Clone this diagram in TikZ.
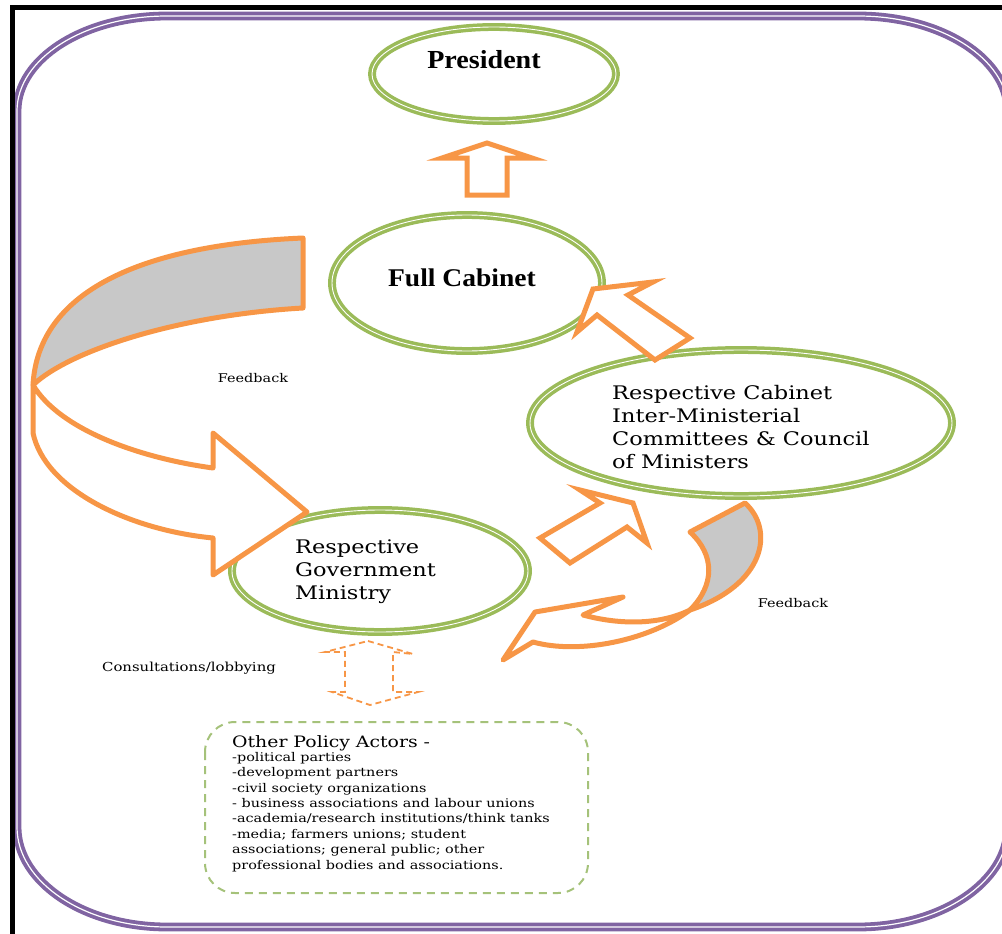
\documentclass[tikz,border=0pt]{standalone}
\usepackage{fontspec}
\setmainfont{DejaVu Serif}[FakeStretch=1.2]
\newfontfamily\timesfont{Liberation Serif}[FakeStretch=1.08]
\usetikzlibrary{shapes.geometric}
\definecolor{pgreen}{HTML}{9BBB59}
\definecolor{lgreen}{HTML}{A5C27A}
\definecolor{porange}{HTML}{F79646}
\definecolor{ppurple}{HTML}{8064A2}
\definecolor{pgray}{HTML}{C8C8C8}
\tikzset{
  bubble/.style={ellipse, draw=pgreen, double=white, double distance=0.9pt, line width=3.5pt, inner sep=0pt},
  blockarrow/.style={draw=porange, line width=5pt, fill=white, line join=miter},
  grayband/.style={draw=porange, line width=5pt, fill=pgray, line join=round},
  dasharrow/.style={draw=porange, line width=1.8pt, dash pattern=on 6pt off 4pt},
  small/.style={font=\fontsize{12}{14}\selectfont, inner sep=0pt},
  body/.style={font=\fontsize{18.7}{23}\selectfont, align=left, inner sep=0pt, anchor=west}
}
\begin{document}
\begin{tikzpicture}[x=1pt,y=-1pt]
\useasboundingbox (0,0) rectangle (1002,934);
\clip (0,0) rectangle (1002,934);
% purple frame
\draw[ppurple, line width=3.8pt, double=white, double distance=1.2pt]
  (17,111) .. controls (17,58.6) and (84.2,16) .. (167,16)
  -- (858,16) .. controls (940.8,16) and (1008,58.6) .. (1008,111)
  -- (1008,827) .. controls (1008,882.2) and (940.8,927) .. (858,927)
  -- (167,927) .. controls (84.2,927) and (17,882.2) .. (17,827) -- cycle;
% black edges
\draw[black, line width=5pt] (12.5,934) -- (12.5,7.5) -- (1002,7.5);

% ellipses
\node[bubble, minimum width=244pt, minimum height=94pt] (pres) at (494,74) {};
\node[bubble, minimum width=270pt, minimum height=136pt] (cab) at (467,283) {};
\node[bubble, minimum width=422pt, minimum height=146pt] (com) at (741,423) {};
\node[bubble, minimum width=296pt, minimum height=122pt] (min) at (380,571) {};

\node[font=\timesfont\bfseries\fontsize{26}{30}\selectfont, inner sep=0pt] (prest) at (484,60) {President};
\node[font=\timesfont\bfseries\fontsize{25.5}{30}\selectfont, inner sep=0pt] (cabt) at (462,278) {Full Cabinet};
\node[body] (comt) at (612,427) {Respective Cabinet\\Inter-Ministerial\\Committees \& Council\\of Ministers};
\node[body] (mint) at (295,572) {Respective\\Government\\Ministry};

% up arrow cabinet -> president
\draw[blockarrow] (487,143) -- (532,158) -- (507,158) -- (507,195) -- (467,195) -- (467,158) -- (442,158) -- cycle;
% committees -> cabinet
\draw[blockarrow] (593,289) -- (653,282) -- (628,295) -- (690,338) -- (655,360) -- (597,315) -- (577,332) -- cycle;
% ministry -> committees
\draw[blockarrow] (633,503) -- (647,543) -- (627,527) -- (570,563) -- (540,538) -- (600,503) -- (580,490) -- cycle;

% left feedback
\draw[blockarrow, line join=round] (33,385) -- (33,433) .. controls (45,490) and (130,530) .. (213,538)
  -- (213,575) -- (307,512) -- (213,433) -- (213,468) .. controls (140,458) and (60,430) .. (33,385) -- cycle;
\draw[grayband] (303,238) .. controls (140,245) and (38,292) .. (33,385)
  .. controls (70,350) and (180,315) .. (303,308) -- cycle;
\node[small] (fb1) at (253,378) {Feedback};

% right feedback
\draw[blockarrow, line join=round] (690,610) .. controls (660,625) and (620,625) .. (583,615)
  -- (623,597) -- (535,612) -- (503,660) -- (533,642) .. controls (580,655) and (650,640) .. (690,610) -- cycle;
\draw[grayband] (690,532) -- (745,503) .. controls (775,530) and (765,585) .. (690,610)
  .. controls (715,585) and (715,555) .. (690,532) -- cycle;
\node[small] (fb2) at (793,603) {Feedback};

% dashed double arrow
\draw[dasharrow] (368,641) -- (413,654) -- (393,652) -- (393,692) -- (418,692) -- (370,705)
  -- (332,692) -- (345,692) -- (345,652) -- (325,652) -- cycle;
\node[font=\fontsize{12.4}{14}\selectfont, inner sep=0pt] (cons) at (189,668) {Consultations/lobbying};

% other policy actors
\draw[lgreen, line width=2pt, dash pattern=on 8pt off 6pt, rounded corners=30pt] (205,722) rectangle (588,893);
\node[font=\fontsize{15.7}{18}\selectfont, inner sep=0pt, anchor=west] (oth) at (232,743) {Other Policy Actors -};
\node[font=\fontsize{12}{15.4}\selectfont, inner sep=0pt, anchor=north west, align=left] (list) at (232,752)
 {-political parties\\-development partners\\-civil society organizations\\- business associations and labour unions\\-academia/research institutions/think tanks\\-media; farmers unions; student\\associations; general public; other\\professional bodies and associations.};
\end{tikzpicture}
\end{document}
